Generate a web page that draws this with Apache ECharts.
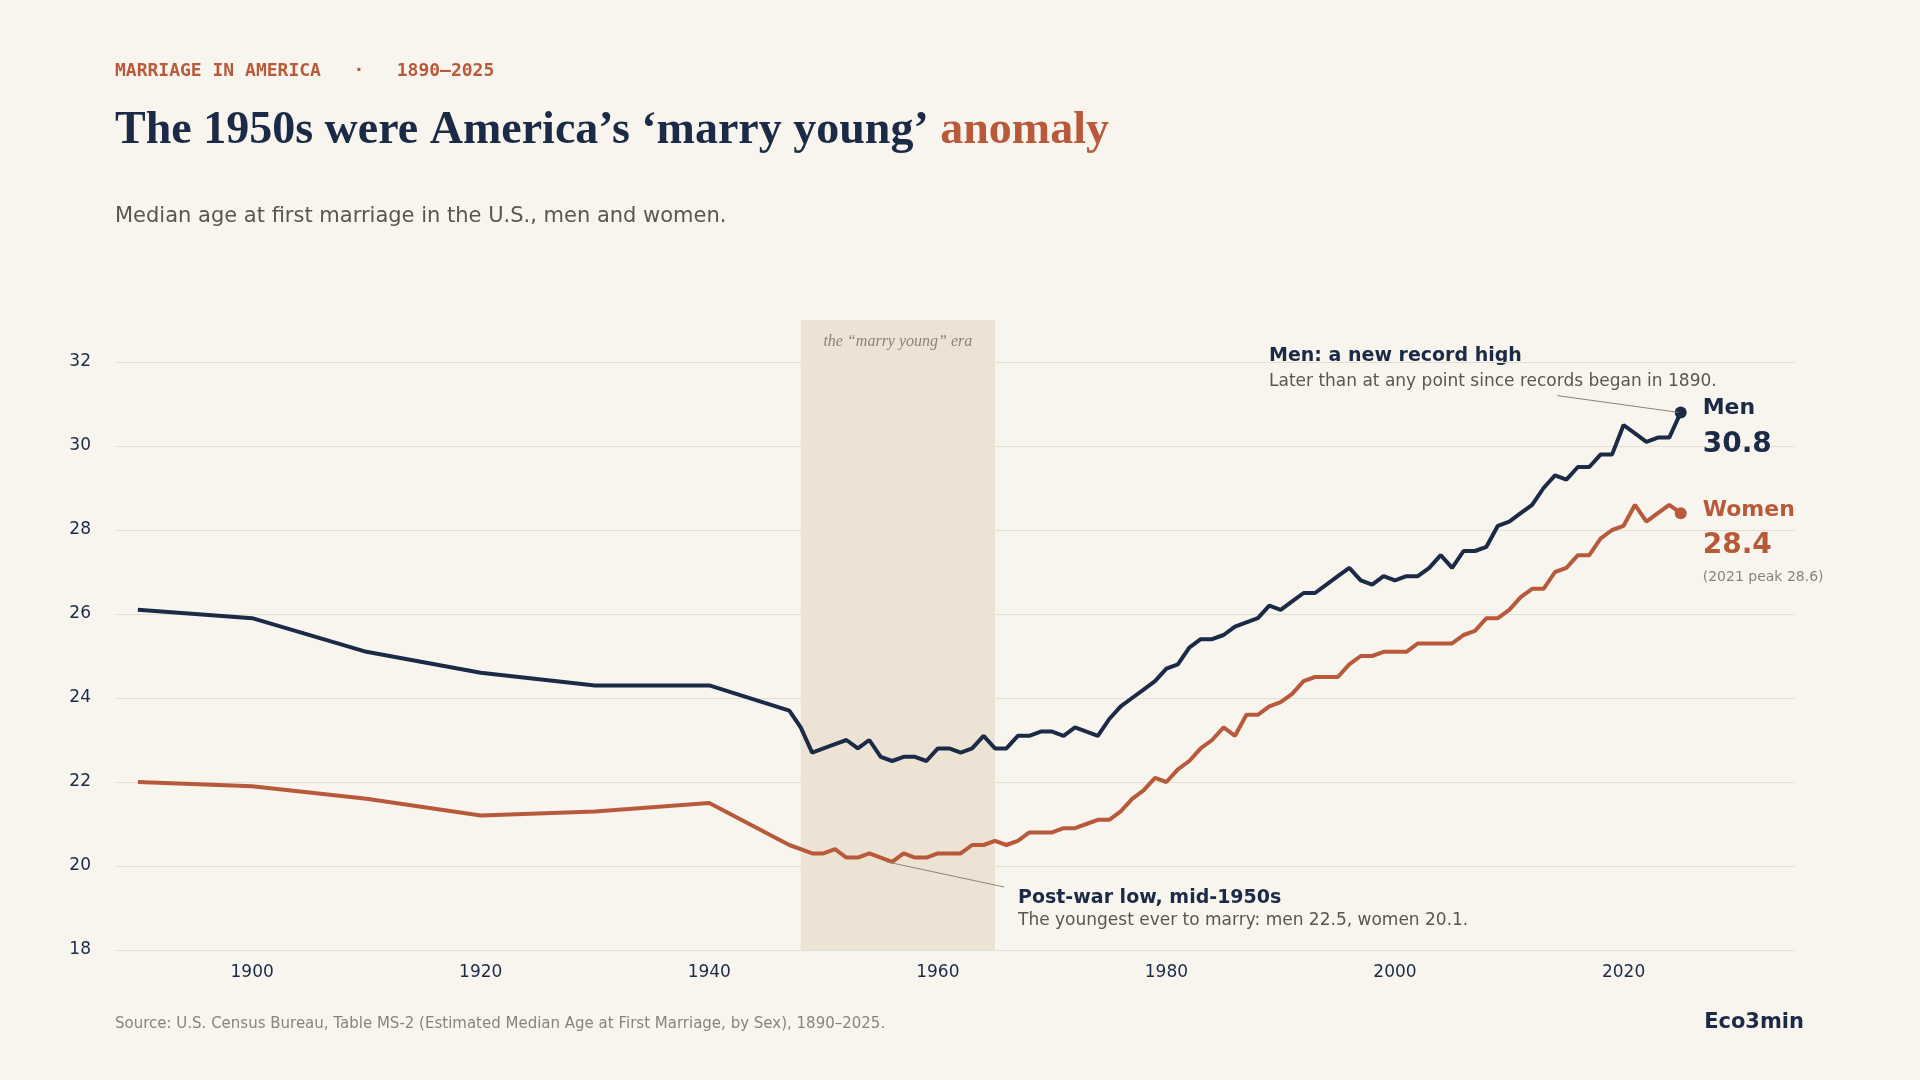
<!DOCTYPE html>
<html>
<head>
<meta charset="utf-8">
<title>Marriage in America</title>
<script src="https://cdn.jsdelivr.net/npm/echarts@6/dist/echarts.min.js"></script>
<style>html,body{margin:0;background:#f8f5ef}</style>
</head>
<body>
<div id="main" style="width:1920px;height:1080px;"></div>
<script>
var myChart = echarts.init(document.getElementById('main'));

const years = [1890,1900,1910,1920,1930,1940,1947,1948,1949];
for (let y = 1950; y <= 2025; y++) years.push(y);
const men = [26.1,25.9,25.1,24.6,24.3,24.3,23.7,23.3,22.7,
  22.8,22.9,23.0,22.8,23.0,22.6,22.5,22.6,22.6,22.5,
  22.8,22.8,22.7,22.8,23.1,22.8,22.8,23.1,23.1,23.2,
  23.2,23.1,23.3,23.2,23.1,23.5,23.8,24.0,24.2,24.4,
  24.7,24.8,25.2,25.4,25.4,25.5,25.7,25.8,25.9,26.2,
  26.1,26.3,26.5,26.5,26.7,26.9,27.1,26.8,26.7,26.9,
  26.8,26.9,26.9,27.1,27.4,27.1,27.5,27.5,27.6,28.1,
  28.2,28.4,28.6,29.0,29.3,29.2,29.5,29.5,29.8,29.8,
  30.5,30.3,30.1,30.2,30.2,30.8];
const women = [22.0,21.9,21.6,21.2,21.3,21.5,20.5,20.4,20.3,
  20.3,20.4,20.2,20.2,20.3,20.2,20.1,20.3,20.2,20.2,
  20.3,20.3,20.3,20.5,20.5,20.6,20.5,20.6,20.8,20.8,
  20.8,20.9,20.9,21.0,21.1,21.1,21.3,21.6,21.8,22.1,
  22.0,22.3,22.5,22.8,23.0,23.3,23.1,23.6,23.6,23.8,
  23.9,24.1,24.4,24.5,24.5,24.5,24.8,25.0,25.0,25.1,
  25.1,25.1,25.3,25.3,25.3,25.3,25.5,25.6,25.9,25.9,
  26.1,26.4,26.6,26.6,27.0,27.1,27.4,27.4,27.8,28.0,
  28.1,28.6,28.2,28.4,28.6,28.4];
const xTicks = [1900,1920,1940,1960,1980,2000,2020];

const NAVY = '#1b2a47', RUST = '#b85a3a', MUTED = '#8a8478';
const pair = (arr) => years.map((y, i) => [y, arr[i]]);
const last = years.length - 1;

var option = {
  backgroundColor: '#f8f5ef',
  textStyle: { fontFamily: 'DejaVu Sans' },
  grid: { left: 115, right: 125, top: 320, bottom: 130 },
  xAxis: {
    type: 'value', min: 1888, max: 2035,
    axisLine: { show: false }, axisTick: { show: false }, splitLine: { show: false },
    axisLabel: { customValues: xTicks, formatter: v => String(v), color: NAVY, fontSize: 17, margin: 14 }
  },
  yAxis: {
    type: 'value', min: 18, max: 33, interval: 2,
    axisLine: { show: false }, axisTick: { show: false },
    axisLabel: { color: NAVY, fontSize: 17, margin: 24, showMaxLabel: false },
    splitLine: { showMaxLine: false, lineStyle: { color: '#e4dfd5' } }
  },
  graphic: [
    { type: 'text', left: 115, top: 62, style: { text: 'MARRIAGE IN AMERICA   ·   1890–2025', fill: RUST, font: 'bold 18px "DejaVu Sans Mono"' } },
    { type: 'text', left: 115, top: 108, style: { text: '{a|The 1950s were America’s ‘marry young’ }{b|anomaly}',
      rich: { a: { fill: NAVY, font: 'bold 46px "Liberation Serif"' }, b: { fill: RUST, font: 'bold 46px "Liberation Serif"' } } } },
    { type: 'text', left: 115, top: 206, style: { text: 'Median age at first marriage in the U.S., men and women.', fill: '#5a564f', font: '21px "DejaVu Sans"' } },
    { type: 'text', left: 115, top: 1017, style: { text: 'Source: U.S. Census Bureau, Table MS-2 (Estimated Median Age at First Marriage, by Sex), 1890–2025.', fill: MUTED, font: '15px "DejaVu Sans"' } },
    { type: 'text', right: 116, top: 1012, style: { text: 'Eco3min', fill: NAVY, font: 'bold 21px "DejaVu Sans"' } },
    { type: 'text', left: 1269, top: 347, style: { text: 'Men: a new record high', fill: NAVY, font: 'bold 19px "DejaVu Sans"' } },
    { type: 'text', left: 1269, top: 373, style: { text: 'Later than at any point since records began in 1890.', fill: '#5a564f', font: '17px "DejaVu Sans"' } },
    { type: 'text', left: 1018, top: 889, style: { text: 'Post-war low, mid-1950s', fill: NAVY, font: 'bold 19px "DejaVu Sans"' } },
    { type: 'text', left: 1018, top: 912, style: { text: 'The youngest ever to marry: men 22.5, women 20.1.', fill: '#5a564f', font: '17px "DejaVu Sans"' } }
  ],
  series: [
    {
      name: 'Men', type: 'line', data: pair(men), showSymbol: false, z: 3,
      lineStyle: { color: NAVY, width: 4 }, itemStyle: { color: NAVY },
      endLabel: { show: true, distance: 22, offset: [0, 14], formatter: '{n|Men}\n{v|30.8}',
        rich: { n: { color: NAVY, fontSize: 22, fontWeight: 'bold', lineHeight: 36 }, v: { color: NAVY, fontSize: 28, fontWeight: 'bold', lineHeight: 36 } } },
      markArea: {
        silent: true, itemStyle: { color: '#ede3d5' },
        label: { position: 'insideTop', distance: 14, color: MUTED, fontStyle: 'italic', fontFamily: 'Liberation Serif', fontSize: 16 },
        data: [[{ name: 'the “marry young” era', xAxis: 1948, yAxis: 18 }, { xAxis: 1965, yAxis: 33 }]]
      },
      markLine: {
        silent: true, symbol: 'none', label: { show: false },
        lineStyle: { color: MUTED, width: 1, type: 'solid' },
        data: [
          [{ coord: [2014.2, 31.2] }, { coord: [2024.8, 30.8] }],
          [{ coord: [1955.5, 20.1] }, { coord: [1965.8, 19.5] }]
        ]
      }
    },
    {
      name: 'Women', type: 'line', data: pair(women), showSymbol: false, z: 3,
      lineStyle: { color: RUST, width: 4 }, itemStyle: { color: RUST },
      endLabel: { show: true, distance: 22, offset: [0, 28], formatter: '{n|Women}\n{v|28.4}\n{p|(2021 peak 28.6)}',
        rich: { n: { color: RUST, fontSize: 22, fontWeight: 'bold', lineHeight: 36 }, v: { color: RUST, fontSize: 28, fontWeight: 'bold', lineHeight: 36 }, p: { color: MUTED, fontSize: 14, lineHeight: 26 } } }
    },
    { type: 'scatter', data: [[years[last], men[last]]], symbolSize: 12, itemStyle: { color: NAVY, opacity: 1 }, z: 4 },
    { type: 'scatter', data: [[years[last], women[last]]], symbolSize: 12, itemStyle: { color: RUST, opacity: 1 }, z: 4 }
  ]
};
myChart.setOption(option);
</script>
</body>
</html>
